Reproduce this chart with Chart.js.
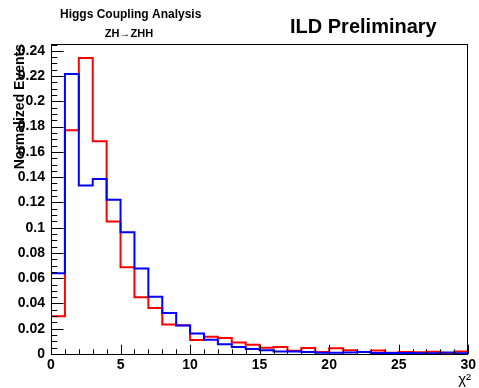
<!DOCTYPE html>
<html>
<head>
<meta charset="utf-8">
<script src="https://cdn.jsdelivr.net/npm/chart.js@4"></script>
<style>
    body { margin: 0; background: #fff; }
    canvas { display: block; }
</style>
</head>
<body>
<canvas id="chi2Chart" width="479" height="388"></canvas>
<script>
// bin edges of the chi2 histogram (30 bins, width 1)
const binEdges = [0, 1, 2, 3, 4, 5, 6, 7, 8, 9, 10, 11, 12, 13, 14, 15, 16, 17, 18, 19, 20,
    21, 22, 23, 24, 25, 26, 27, 28, 29, 30];
// blue histogram, normalized content per bin
const blueValues = [0.0639, 0.2217, 0.1333, 0.1386, 0.1222, 0.0963, 0.0676, 0.0454, 0.0325, 0.0225,
    0.0162, 0.0113, 0.0077, 0.0055, 0.0040, 0.0030, 0.0020, 0.0020, 0.0015, 0.0010,
    0.0010, 0.0012, 0.0015, 0.0008, 0.0008, 0.0008, 0.0005, 0.0005, 0.0012, 0.0005];
// red histogram
const redValues = [0.0298, 0.1771, 0.2344, 0.1684, 0.1048, 0.0686, 0.0449, 0.0364, 0.0233, 0.0228,
    0.0111, 0.0137, 0.0127, 0.0092, 0.0074, 0.0050, 0.0055, 0.0026, 0.0048, 0.0016,
    0.0045, 0.0030, 0.0016, 0.0027, 0.0010, 0.0016, 0.0013, 0.0018, 0.0008, 0.0020];
// axis ticks
const xTicks = [0, 5, 10, 15, 20, 25, 30];
const yTicks = [0, 0.02, 0.04, 0.06, 0.08, 0.1, 0.12, 0.14, 0.16, 0.18, 0.2, 0.22, 0.24];
const xMax = 30;
const yMax = 0.2454;

const FONT = "'Liberation Sans', Arial, sans-serif";
Chart.defaults.font.family = FONT;
Chart.defaults.color = '#000';

// histogram outline: each bin edge gets the value of the bin to its right, last edge repeats
function histPoints(values) {
    return binEdges.map((x, i) => ({ x: x, y: values[Math.min(i, values.length - 1)] }));
}

// ROOT-like frame, inward ticks and texts
const rootStyle = {
    id: 'rootStyle',
    afterDraw(chart) {
        const ctx = chart.ctx;
        const area = chart.chartArea;
        const xs = chart.scales.x;
        const ys = chart.scales.y;
        ctx.save();
        ctx.strokeStyle = '#000';
        ctx.lineWidth = 1;
        ctx.beginPath();
        // y ticks: major every 0.02, minor every 0.005
        for (let k = 0; k * 0.005 <= yMax + 1e-9; k++) {
            const py = Math.round(ys.getPixelForValue(k * 0.005)) + 0.5;
            const len = (k % 4 === 0) ? 12.6 : 6.3;
            ctx.moveTo(area.left, py);
            ctx.lineTo(area.left + len, py);
        }
        // x ticks: major every 5, minor every 1
        for (let k = 0; k <= xMax; k++) {
            const px = Math.round(xs.getPixelForValue(k)) + 0.5;
            const len = (k % 5 === 0) ? 9.3 : 4.7;
            ctx.moveTo(px, area.bottom);
            ctx.lineTo(px, area.bottom - len);
        }
        ctx.stroke();
        ctx.strokeRect(Math.round(area.left) + 0.5, Math.round(area.top) + 0.5,
            Math.round(area.right - area.left) - 1, Math.round(area.bottom - area.top));

        ctx.fillStyle = '#000';
        ctx.textBaseline = 'alphabetic';
        ctx.font = 'bold 12px ' + FONT;
        ctx.textAlign = 'left';
        ctx.fillText('Higgs Coupling Analysis', 60, 17.5);
        ctx.font = 'bold 11px ' + FONT;
        ctx.textAlign = 'center';
        ctx.fillText('ZH\u2192ZHH', 129, 37);
        ctx.font = 'bold 20px ' + FONT;
        ctx.textAlign = 'left';
        ctx.fillText('ILD Preliminary', 290, 33);

        ctx.font = '15px ' + FONT;
        ctx.textAlign = 'right';
        ctx.fillText('\u03c7\u00b2', 471, 384);

        ctx.translate(24, 44);
        ctx.rotate(-Math.PI / 2);
        ctx.font = 'bold 14px ' + FONT;
        ctx.textAlign = 'right';
        ctx.fillText('Normalized Events', 0, 0);
        ctx.restore();
    }
};

new Chart(document.getElementById('chi2Chart').getContext('2d'), {
    type: 'line',
    data: {
        datasets: [{
            data: histPoints(blueValues),
            borderColor: '#0000ff',
            borderWidth: 2,
            pointRadius: 0,
            stepped: 'before',
            fill: false
        }, {
            data: histPoints(redValues),
            borderColor: '#ff0000',
            borderWidth: 2,
            pointRadius: 0,
            stepped: 'before',
            fill: false
        }]
    },
    options: {
        responsive: false,
        animation: false,
        events: [],
        layout: { padding: { left: 0, right: 8, top: 44, bottom: 0 } },
        plugins: { legend: { display: false }, tooltip: { enabled: false } },
        scales: {
            x: {
                type: 'linear',
                min: 0,
                max: xMax,
                grid: { display: false, drawTicks: false },
                border: { display: false },
                afterBuildTicks: s => { s.ticks = xTicks.map(v => ({ value: v })); },
                afterFit: s => { s.height = 34; },
                ticks: {
                    padding: 3,
                    maxRotation: 0,
                    font: { size: 14, weight: 'bold' },
                    callback: v => String(v)
                }
            },
            y: {
                type: 'linear',
                min: 0,
                max: yMax,
                grid: { display: false, drawTicks: false },
                border: { display: false },
                afterBuildTicks: s => { s.ticks = yTicks.map(v => ({ value: v })); },
                afterFit: s => { s.width = 51; },
                ticks: {
                    padding: 6,
                    font: { size: 14, weight: 'bold' },
                    callback: v => String(+v.toFixed(2))
                }
            }
        }
    },
    plugins: [rootStyle]
});
</script>
</body>
</html>
